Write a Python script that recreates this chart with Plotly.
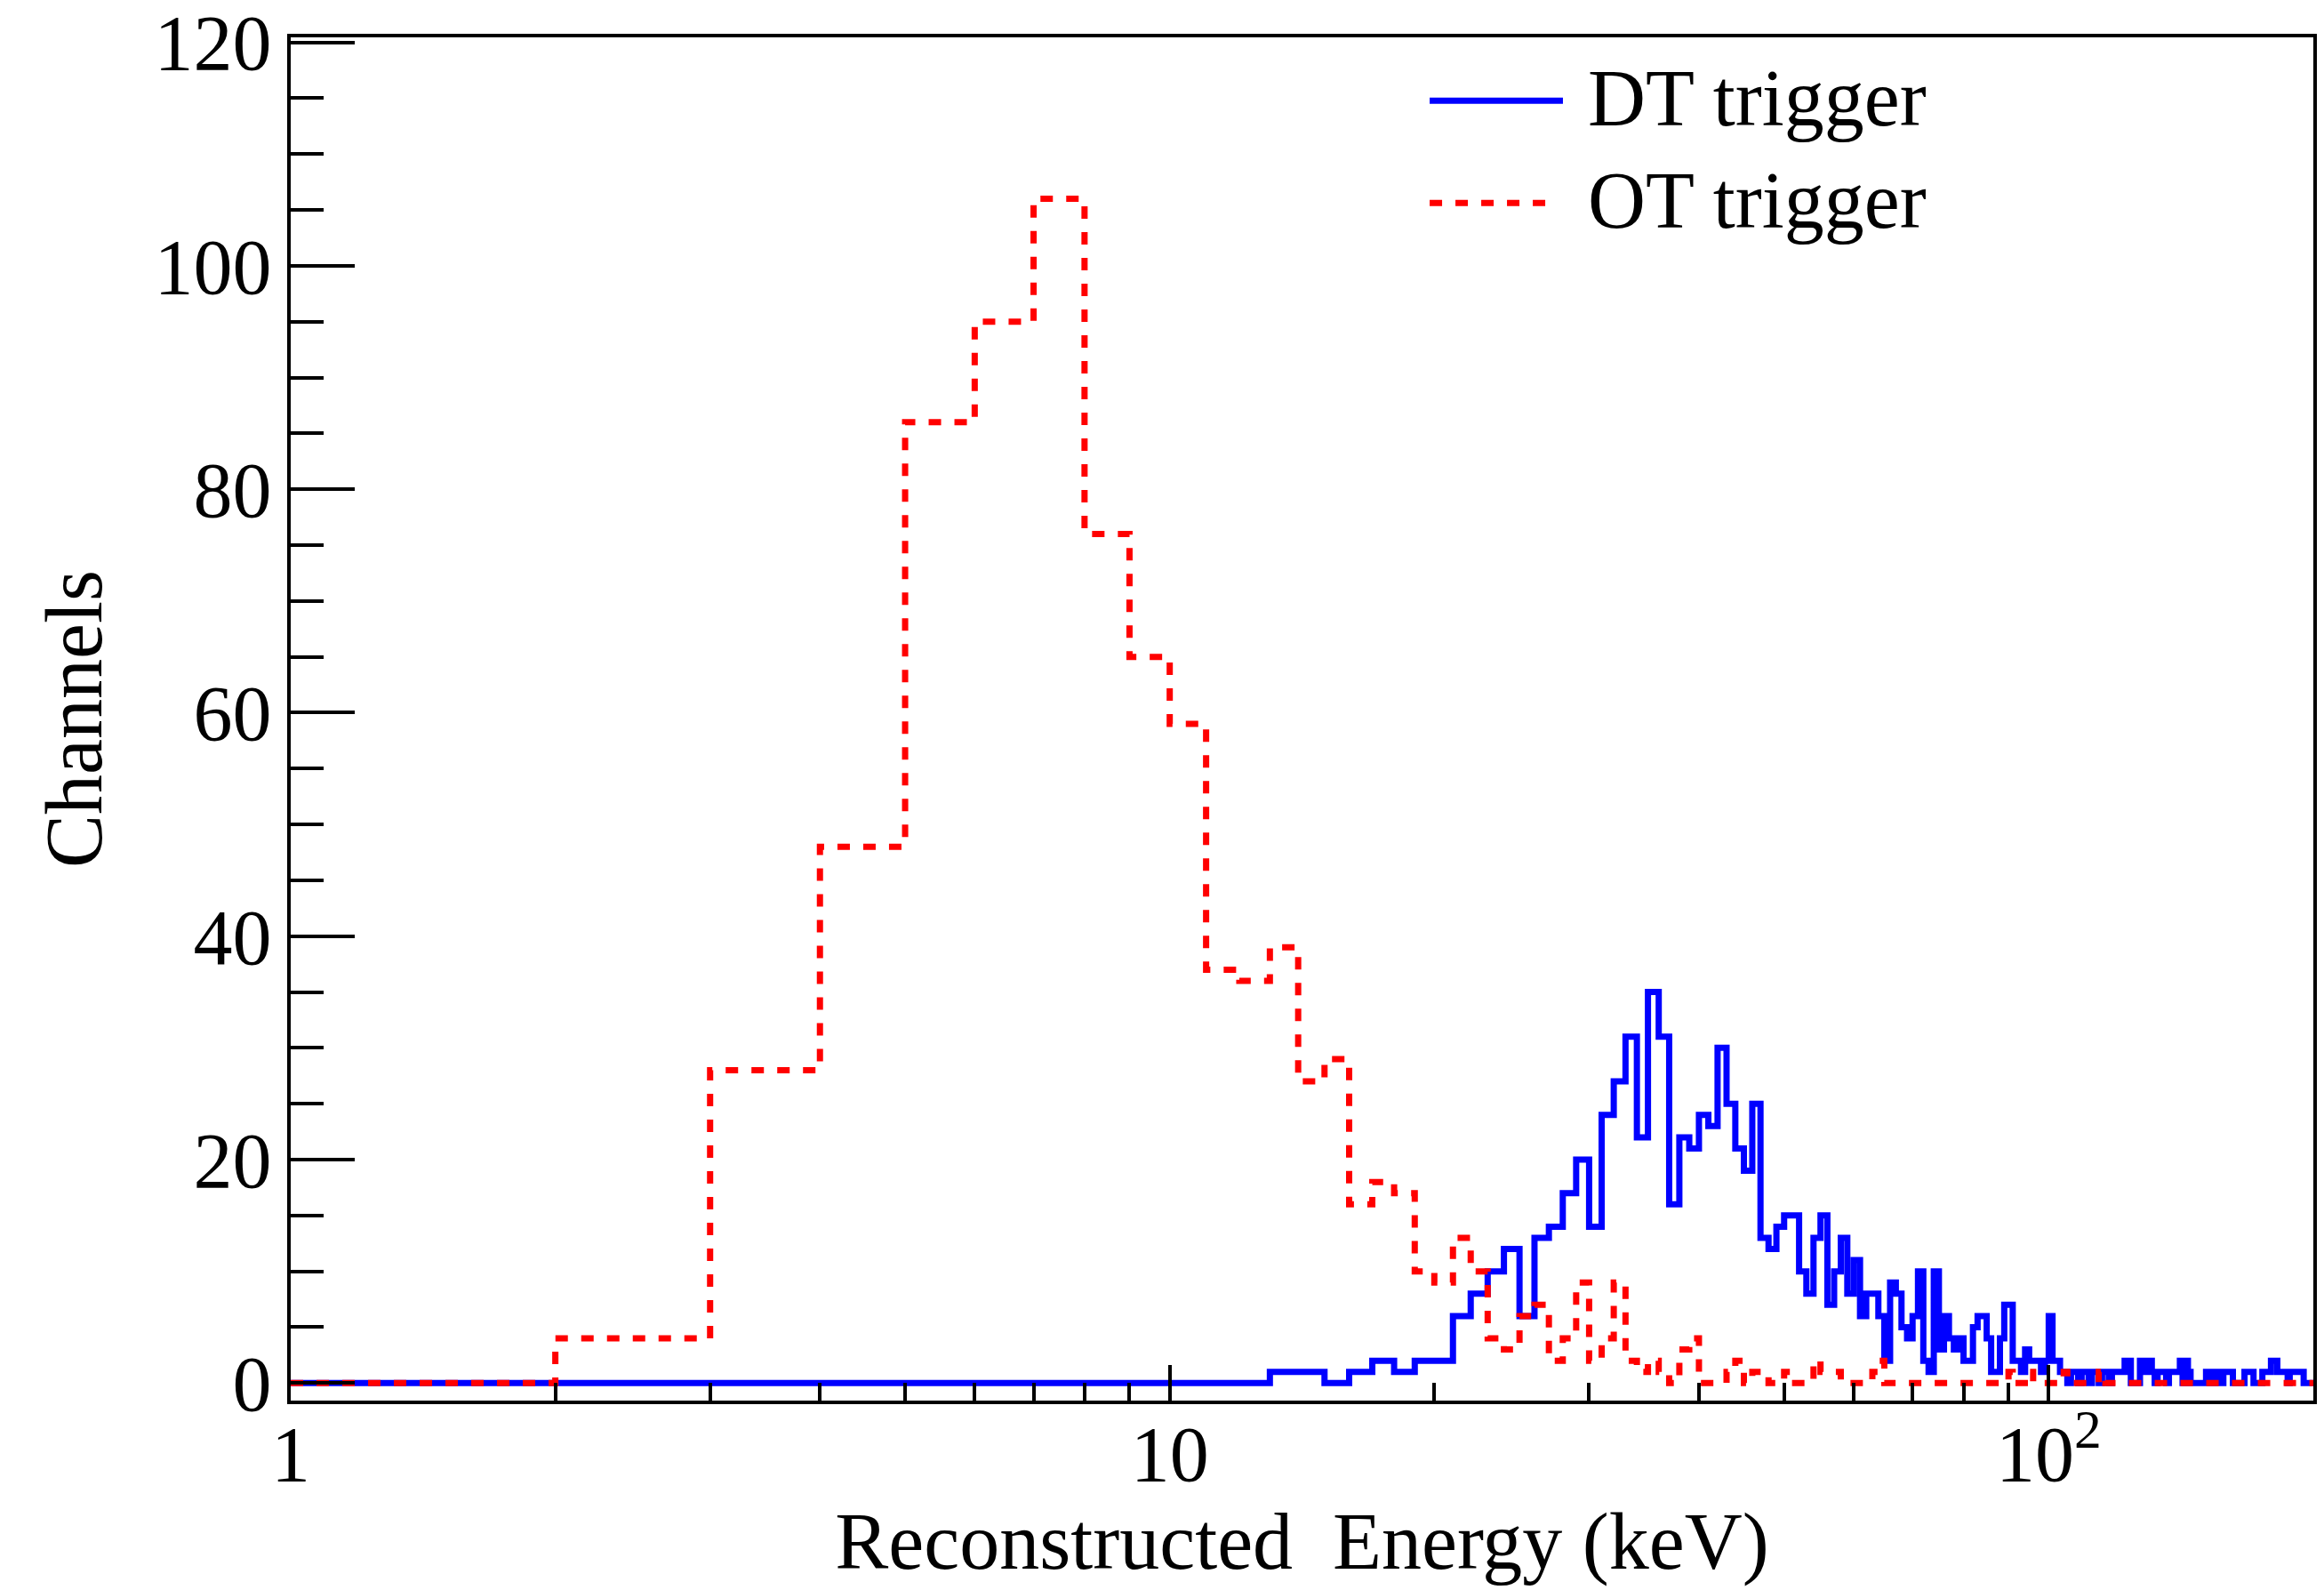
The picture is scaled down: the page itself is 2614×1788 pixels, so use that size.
import plotly.graph_objects as go

# ---------------- data (1 keV bins from 1 to 200 keV) ----------------
bin_edges = list(range(1, 201))

dt_counts = [
    0, 0, 0, 0, 0, 0, 0, 0, 0, 0,          # 1-10
    0, 0, 1, 1, 0, 1, 2, 1, 2, 2,          # 11-20
    6, 8, 10, 12, 6, 13, 14, 17, 20, 14,   # 21-30
    24, 27, 31, 22, 35, 31, 16, 22, 21, 24,  # 31-40
    23, 30, 25, 21, 19, 25, 13, 12, 14, 15,  # 41-50
    15, 10, 8, 13, 15, 7, 10, 13, 8, 11,   # 51-60
    6, 8, 8, 6, 2, 9, 8, 5, 4, 6,          # 61-70
    10, 2, 1, 10, 3, 6, 4, 3, 4, 2,        # 71-80
    2, 5, 6, 6, 4, 1, 1, 4, 7, 7,          # 81-90
    2, 2, 1, 3, 2, 2, 2, 1, 2, 6,          # 91-100
    2, 2, 1, 1, 0, 1, 1, 0, 1, 1,          # 101-110
    0, 1, 1, 0, 1, 1, 0, 1, 1, 1,          # 111-120
    1, 2, 2, 0, 0, 0, 2, 2, 1, 2,          # 121-130
    1, 0, 1, 1, 1, 0, 1, 1, 1, 1,          # 131-140
    2, 0, 2, 1, 0, 0, 0, 0, 0, 0,          # 141-150
    1, 1, 0, 1, 1, 0, 0, 1, 1, 1,          # 151-160
    1, 0, 0, 0, 0, 0, 1, 1, 1, 1,          # 161-170
    0, 0, 0, 0, 1, 1, 1, 1, 2, 2,          # 171-180
    2, 1, 1, 1, 1, 1, 0, 1, 1, 1,          # 181-190
    1, 1, 1, 1, 0, 0, 0, 0, 0,             # 191-199
]

ot_counts = [
    0, 4, 28, 48, 86, 95, 106, 76, 65, 59,  # 1-10
    37, 36, 39, 27, 29, 16, 18, 17, 10, 9,  # 11-20
    13, 10, 4, 3, 6, 7, 2, 4, 9, 2,         # 21-30
    4, 9, 2, 1, 2, 1, 0, 3, 4, 0,           # 31-40
    0, 0, 1, 2, 0, 1, 1, 0, 0, 1,           # 41-50
    0, 0, 0, 2, 1, 1, 1, 0, 0, 0,           # 51-60
    0, 0, 1, 2, 0, 0, 0, 0, 0, 0,           # 61-70
    0, 0, 0, 0, 0, 0, 0, 0, 0, 0,           # 71-80
    0, 0, 0, 0, 0, 0, 0, 0, 0, 1,           # 81-90
    0, 0, 0, 0, 1, 0, 0, 0, 0, 0,           # 91-100
    0, 0, 0, 1, 0, 0, 0, 0, 0, 0,           # 101-110
    0, 0, 0, 1, 1, 0, 0, 0, 0, 0,           # 111-120
] + [0] * 79                                # 121-199

series_names = ["DT trigger", "OT trigger"]
x_tick_values = [1, 10, 100]
x_tick_labels = ["1", "10", "10<sup>2</sup>"]
x_minor_values = [2, 3, 4, 5, 6, 7, 8, 9, 20, 30, 40, 50, 60, 70, 80, 90, 200]
x_title = "Reconstructed  Energy (keV)"
y_title = "Channels"

# ---------------- figure ----------------
FONT = "Liberation Serif, Times New Roman, serif"
BLUE = "#0000ff"
RED = "#ff0000"
DASH = "14px,15px"
LW = 7

fig = go.Figure()
fig.add_trace(go.Scatter(
    x=bin_edges, y=dt_counts + [dt_counts[-1]], mode="lines",
    line=dict(shape="hv", color=BLUE, width=LW),
    name=series_names[0], showlegend=False, hoverinfo="skip"))
fig.add_trace(go.Scatter(
    x=bin_edges, y=ot_counts + [ot_counts[-1]], mode="lines",
    line=dict(shape="hv", color=RED, width=LW, dash=DASH),
    name=series_names[1], showlegend=False, hoverinfo="skip"))

# legend drawn by hand (long line samples as in the original)
leg_x0, leg_x1r, leg_x1b, leg_tx = 0.5631, 0.6233, 0.6290, 0.6405
leg_y = [0.9535, 0.8785]
fig.add_shape(type="line", xref="paper", yref="paper", x0=leg_x0, x1=leg_x1b,
              y0=leg_y[0], y1=leg_y[0], line=dict(color=BLUE, width=LW))
fig.add_shape(type="line", xref="paper", yref="paper", x0=leg_x0, x1=leg_x1r,
              y0=leg_y[1], y1=leg_y[1], line=dict(color=RED, width=LW, dash=DASH))
for name, yy in zip(series_names, leg_y):
    fig.add_annotation(xref="paper", yref="paper", x=leg_tx, y=yy + 0.002,
                       text=name, showarrow=False, xanchor="left", yanchor="middle",
                       font=dict(family=FONT, size=90, color="black"))

fig.update_layout(
    width=2614, height=1788,
    margin=dict(l=327, r=12, t=42, b=213, autoexpand=False),
    paper_bgcolor="white", plot_bgcolor="white",
    font=dict(family=FONT, color="black"),
)
fig.update_xaxes(
    type="log", range=[0, 2.30103], automargin=False,
    showline=True, linecolor="black", linewidth=4, mirror=True,
    showgrid=False, zeroline=False,
    ticks="inside", ticklen=40, tickwidth=4, tickcolor="black",
    tickvals=x_tick_values, ticktext=x_tick_labels,
    tickfont=dict(family=FONT, size=88), ticklabelstandoff=-20,
    minor=dict(tickvals=x_minor_values, ticks="inside", ticklen=20,
               tickwidth=4, tickcolor="black", showgrid=False),
    title=dict(text=x_title, font=dict(family=FONT, size=90), standoff=15),
)
fig.update_yaxes(
    range=[-1.57, 120.45], automargin=False,
    showline=True, linecolor="black", linewidth=4, mirror=True,
    showgrid=False, zeroline=False,
    ticks="inside", ticklen=72, tickwidth=4, tickcolor="black",
    tick0=0, dtick=20,
    tickfont=dict(family=FONT, size=88),
    minor=dict(dtick=5, ticks="inside", ticklen=37, tickwidth=4,
               tickcolor="black", showgrid=False),
    title=dict(text=y_title, font=dict(family=FONT, size=90), standoff=30),
)

fig.write_html("out.html")
